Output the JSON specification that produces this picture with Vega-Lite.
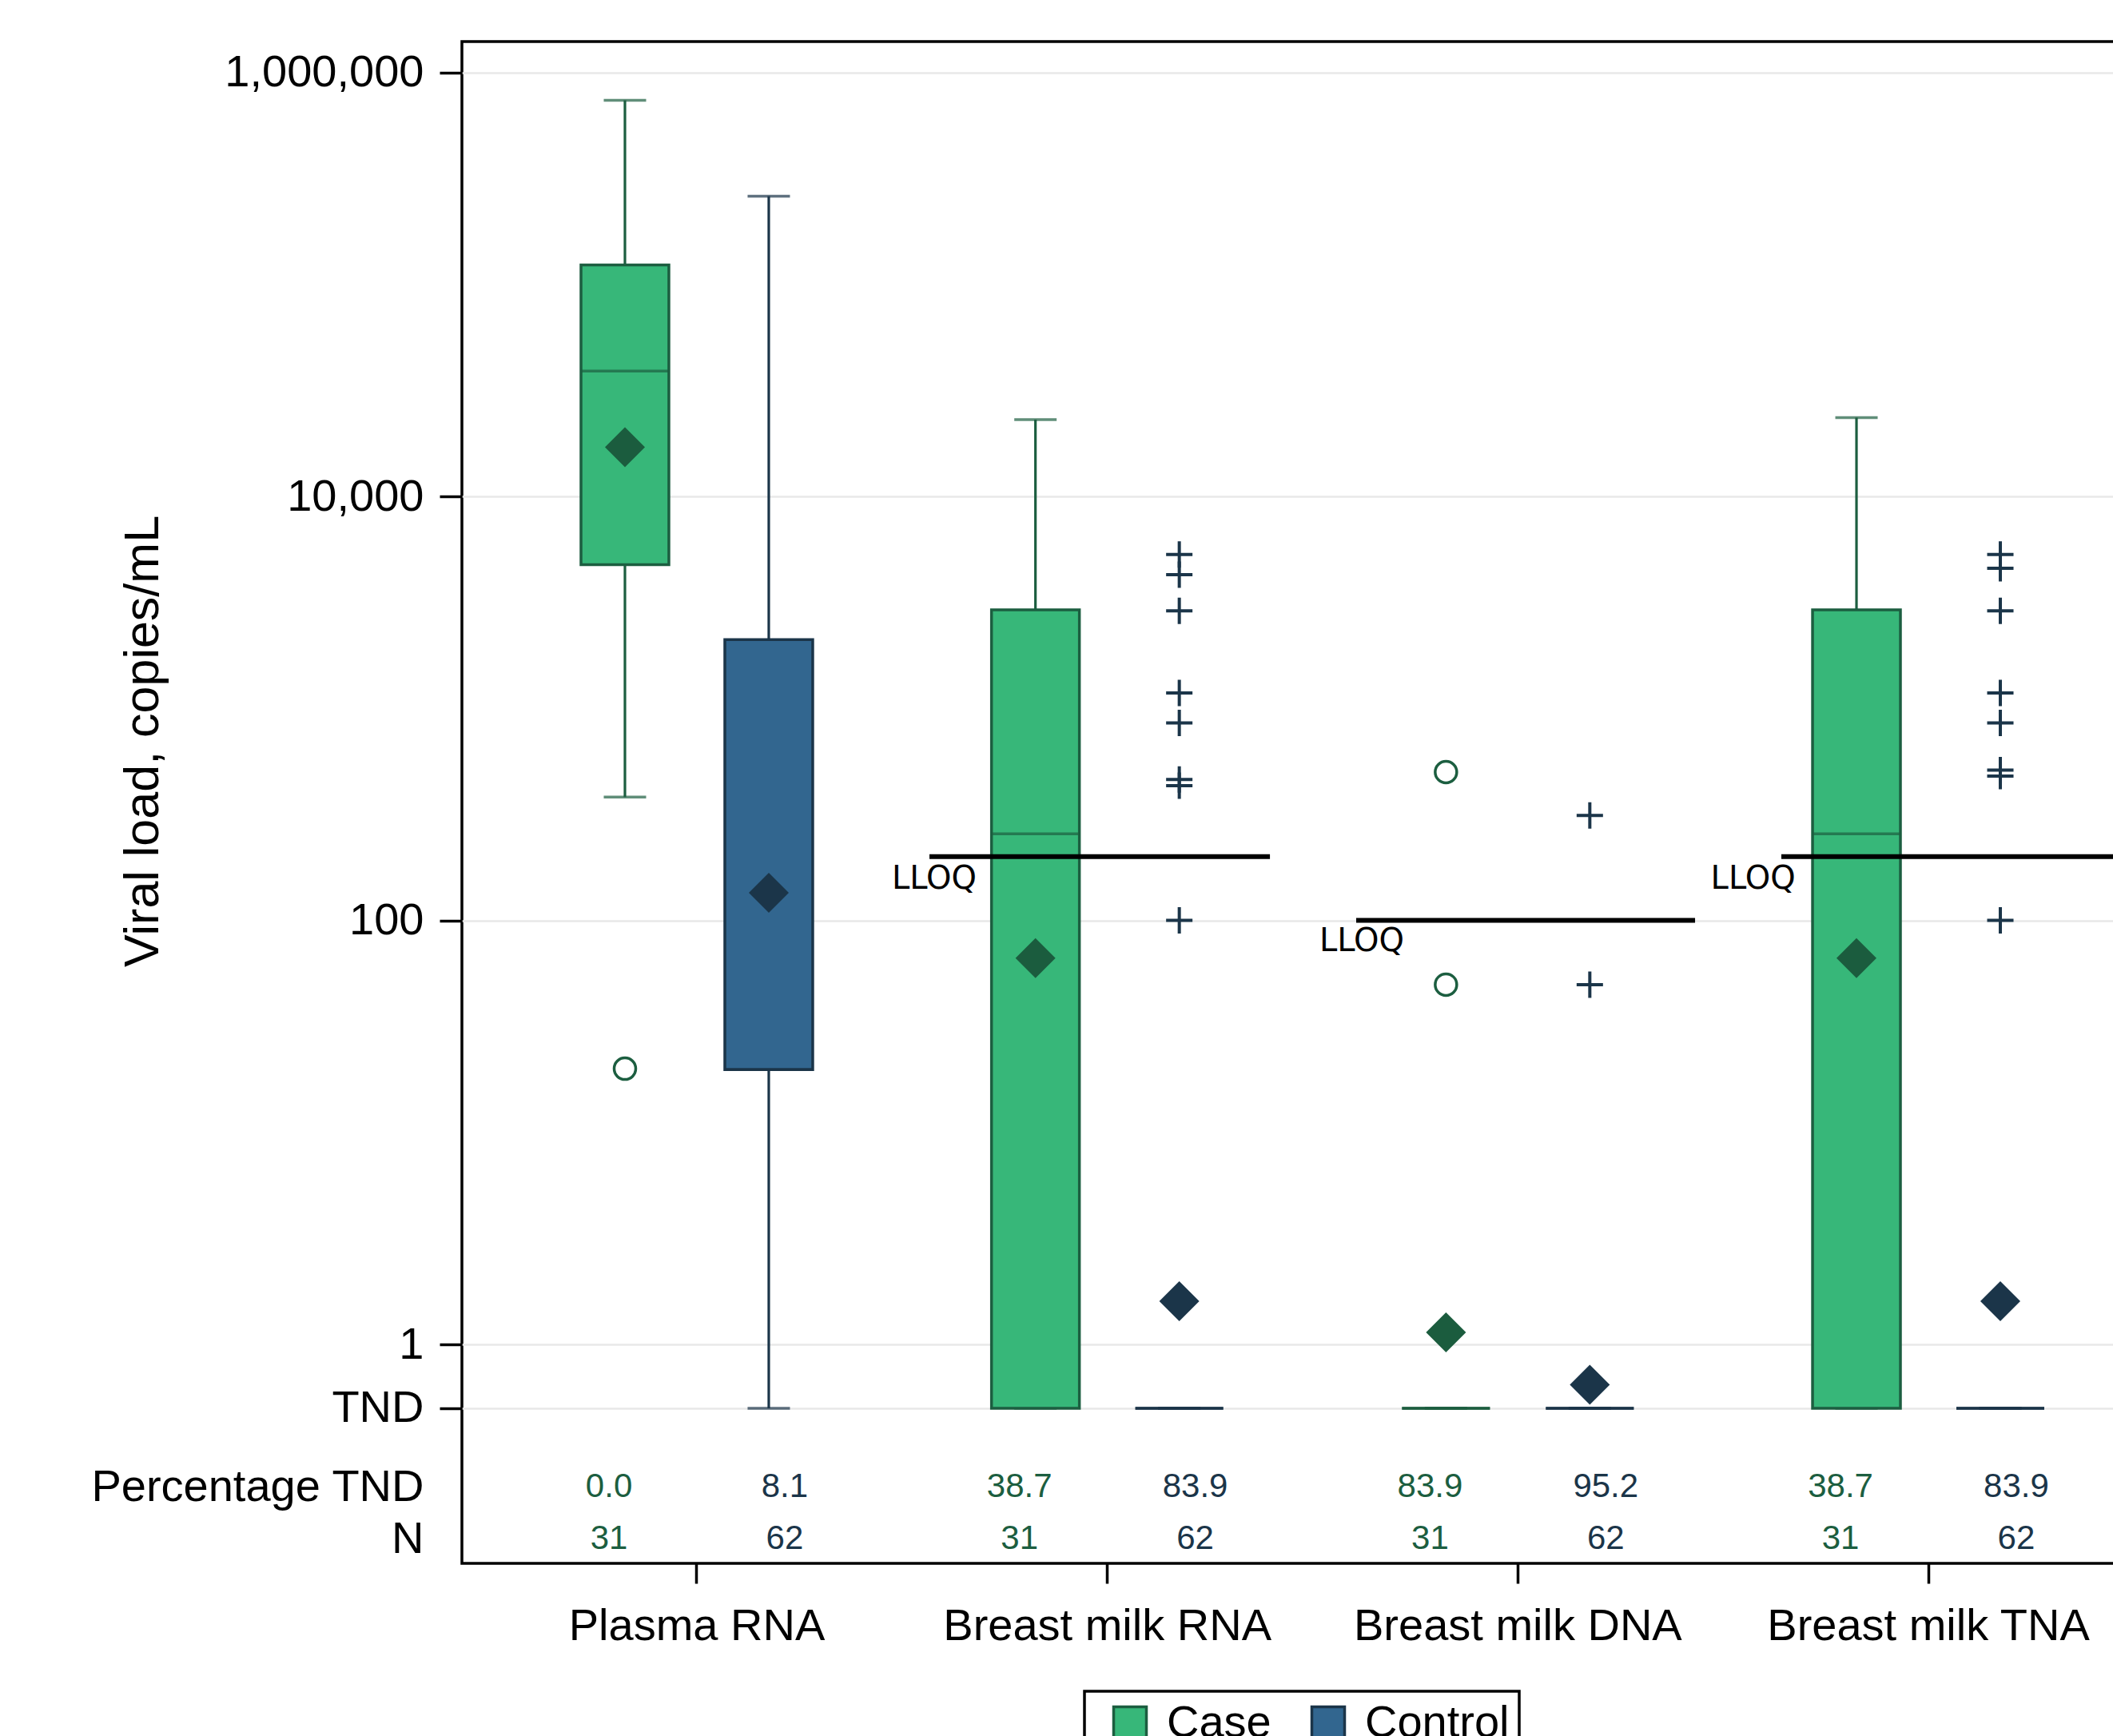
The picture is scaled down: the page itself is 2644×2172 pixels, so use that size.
{
  "$schema": "https://vega.github.io/schema/vega-lite/v6.json",
  "width": 2129,
  "height": 1904,
  "autosize": {"type": "none"},
  "padding": {"left": 578, "top": 52, "right": -63, "bottom": 216},
  "background": "white",
  "config": {
    "view": {"stroke": "black", "strokeWidth": 3.5},
    "font": "Liberation Sans"
  },
  "datasets": {
    "boxes": [
      {"category": "Plasma RNA", "group": "Case", "lower": 382, "q1": 4770, "median": 39100, "q3": 123700, "upper": 740000, "mean": 17100, "pct": 0.0, "n": 31},
      {"category": "Plasma RNA", "group": "Control", "lower": 0.5, "q1": 19.8, "median": 19.8, "q3": 2111, "upper": 261200, "mean": 135, "pct": 8.1, "n": 62},
      {"category": "Breast milk RNA", "group": "Case", "lower": 0.5, "q1": 0.5, "median": 256, "q3": 2917, "upper": 23070, "mean": 66.4, "pct": 38.7, "n": 31},
      {"category": "Breast milk RNA", "group": "Control", "lower": 0.5, "q1": 0.5, "median": 0.5, "q3": 0.5, "upper": 0.5, "mean": 1.6, "pct": 83.9, "n": 62},
      {"category": "Breast milk DNA", "group": "Case", "lower": 0.5, "q1": 0.5, "median": 0.5, "q3": 0.5, "upper": 0.5, "mean": 1.14, "pct": 83.9, "n": 31},
      {"category": "Breast milk DNA", "group": "Control", "lower": 0.5, "q1": 0.5, "median": 0.5, "q3": 0.5, "upper": 0.5, "mean": 0.646, "pct": 95.2, "n": 62},
      {"category": "Breast milk TNA", "group": "Case", "lower": 0.5, "q1": 0.5, "median": 256, "q3": 2917, "upper": 23560, "mean": 66.4, "pct": 38.7, "n": 31},
      {"category": "Breast milk TNA", "group": "Control", "lower": 0.5, "q1": 0.5, "median": 0.5, "q3": 0.5, "upper": 0.5, "mean": 1.6, "pct": 83.9, "n": 62}
    ],
    "outliers": [
      {"category": "Plasma RNA", "group": "Case", "value": 19.98},
      {"category": "Breast milk RNA", "group": "Control", "value": 5330},
      {"category": "Breast milk RNA", "group": "Control", "value": 4276},
      {"category": "Breast milk RNA", "group": "Control", "value": 2885},
      {"category": "Breast milk RNA", "group": "Control", "value": 1183},
      {"category": "Breast milk RNA", "group": "Control", "value": 855},
      {"category": "Breast milk RNA", "group": "Control", "value": 462},
      {"category": "Breast milk RNA", "group": "Control", "value": 432},
      {"category": "Breast milk RNA", "group": "Control", "value": 100},
      {"category": "Breast milk DNA", "group": "Case", "value": 501},
      {"category": "Breast milk DNA", "group": "Case", "value": 49.8},
      {"category": "Breast milk DNA", "group": "Control", "value": 313},
      {"category": "Breast milk DNA", "group": "Control", "value": 49.8},
      {"category": "Breast milk TNA", "group": "Control", "value": 5330},
      {"category": "Breast milk TNA", "group": "Control", "value": 4585},
      {"category": "Breast milk TNA", "group": "Control", "value": 2885},
      {"category": "Breast milk TNA", "group": "Control", "value": 1183},
      {"category": "Breast milk TNA", "group": "Control", "value": 855},
      {"category": "Breast milk TNA", "group": "Control", "value": 512},
      {"category": "Breast milk TNA", "group": "Control", "value": 480},
      {"category": "Breast milk TNA", "group": "Control", "value": 100}
    ],
    "lloq": [
      {"category": "Breast milk RNA", "lloq": 200, "label": "LLOQ"},
      {"category": "Breast milk DNA", "lloq": 100, "label": "LLOQ"},
      {"category": "Breast milk TNA", "lloq": 200, "label": "LLOQ"}
    ]
  },
  "layer": [
    {
      "data": {"name": "boxes"},
      "mark": {"type": "rule", "strokeWidth": 3.2},
      "encoding": {
        "x": {
          "field": "category", "type": "nominal",
          "sort": ["Plasma RNA", "Breast milk RNA", "Breast milk DNA", "Breast milk TNA"],
          "title": null,
          "scale": {"domain": ["Plasma RNA", "Breast milk RNA", "Breast milk DNA", "Breast milk TNA"], "paddingInner": 0, "paddingOuter": 0.0723},
          "axis": {
            "labelFontSize": 56, "labelFont": "Liberation Sans", "labelColor": "black", "labelAngle": 0,
            "labelLimit": 0, "tickSize": 25, "tickWidth": 3.5, "tickColor": "black",
            "domain": false, "grid": false, "labelPadding": 26, "title": null
          }
        },
        "xOffset": {"field": "group", "type": "nominal", "scale": {"domain": ["Case", "Control"], "paddingInner": 0.389, "paddingOuter": 0.6215}},
        "y": {
          "field": "lower", "type": "quantitative",
          "title": "Viral load, copies/mL",
          "scale": {"type": "log", "domain": [0.0927, 1400000], "nice": false},
          "axis": {
            "values": [0.121, 0.213, 0.5, 1, 100, 10000, 1000000],
            "labelExpr": "datum.value >= 1 ? format(datum.value, ',') : (datum.value == 0.5 ? 'TND' : (datum.value > 0.2 ? 'Percentage TND' : 'N'))",
            "tickOpacity": {"condition": {"test": "datum.value < 0.3", "value": 0}, "value": 1},
            "gridOpacity": {"condition": {"test": "datum.value < 0.3", "value": 0}, "value": 1},
            "grid": true, "gridColor": "#e8e8e8", "gridWidth": 2.5,
            "domain": false, "tickColor": "black", "tickWidth": 3.5, "tickSize": 28,
            "labelFontSize": 56, "labelFont": "Liberation Sans", "labelColor": "black", "labelPadding": 20,
            "labelLimit": 0, "labelOverlap": false, "labelFlush": false, "labelBound": false,
            "title": "Viral load, copies/mL", "titleFontSize": 61, "titleFont": "Liberation Sans",
            "titleFontWeight": "normal", "titleColor": "black",
            "titleX": -381, "titleY": 875, "titleAngle": 270, "titleBaseline": "alphabetic", "titleAlign": "center"
          }
        },
        "y2": {"field": "upper"},
        "color": {"condition": {"test": "datum.group === 'Case'", "value": "#1c5e40"}, "value": "#1b3549"}
      }
    },
    {
      "data": {"name": "boxes"},
      "mark": {"type": "tick", "size": 53, "thickness": 3.5},
      "encoding": {
        "x": {"field": "category", "type": "nominal", "sort": ["Plasma RNA", "Breast milk RNA", "Breast milk DNA", "Breast milk TNA"], "title": null},
        "xOffset": {"field": "group", "type": "nominal", "scale": {"domain": ["Case", "Control"], "paddingInner": 0.389, "paddingOuter": 0.6215}},
        "y": {"field": "lower", "type": "quantitative", "title": "Viral load, copies/mL"},
        "color": {"condition": {"test": "datum.group === 'Case'", "value": "#1c5e40"}, "value": "#1b3549"}
      }
    },
    {
      "data": {"name": "boxes"},
      "mark": {"type": "tick", "size": 53, "thickness": 3.5},
      "encoding": {
        "x": {"field": "category", "type": "nominal", "sort": ["Plasma RNA", "Breast milk RNA", "Breast milk DNA", "Breast milk TNA"], "title": null},
        "xOffset": {"field": "group", "type": "nominal", "scale": {"domain": ["Case", "Control"], "paddingInner": 0.389, "paddingOuter": 0.6215}},
        "y": {"field": "upper", "type": "quantitative", "title": "Viral load, copies/mL"},
        "color": {"condition": {"test": "datum.group === 'Case'", "value": "#1c5e40"}, "value": "#1b3549"}
      }
    },
    {
      "data": {"name": "boxes"},
      "mark": {"type": "bar", "strokeWidth": 3.5, "opacity": 1},
      "encoding": {
        "x": {"field": "category", "type": "nominal", "sort": ["Plasma RNA", "Breast milk RNA", "Breast milk DNA", "Breast milk TNA"], "title": null},
        "xOffset": {"field": "group", "type": "nominal", "scale": {"domain": ["Case", "Control"], "paddingInner": 0.389, "paddingOuter": 0.6215}},
        "y": {"field": "q1", "type": "quantitative", "title": "Viral load, copies/mL"},
        "y2": {"field": "q3"},
        "color": {
          "field": "group", "type": "nominal",
          "scale": {"domain": ["Case", "Control"], "range": ["#37b779", "#32668f"]},
          "legend": {
            "title": null, "orient": "none", "legendX": 779, "legendY": 2064,
            "direction": "horizontal", "symbolType": "square", "symbolSize": 1681,
            "symbolStrokeWidth": 3.5, "symbolOpacity": 1,
            "labelFontSize": 56, "labelFont": "Liberation Sans", "labelColor": "black", "labelLimit": 0,
            "padding": 12, "symbolOffset": 17, "labelOffset": 18, "columnPadding": 26,
            "strokeColor": "black",
            "encode": {
              "legend": {"update": {"strokeWidth": {"value": 3.5}}},
              "symbols": {"update": {"stroke": {"signal": "datum.value === 'Case' ? '#1c5e40' : '#1b3549'"}, "strokeWidth": {"value": 3.5}}}
            }
          }
        },
        "stroke": {
          "field": "group", "type": "nominal",
          "scale": {"domain": ["Case", "Control"], "range": ["#1c5e40", "#1b3549"]},
          "legend": null
        }
      }
    },
    {
      "data": {"name": "boxes"},
      "mark": {"type": "tick", "size": 110, "thickness": 3.5},
      "encoding": {
        "x": {"field": "category", "type": "nominal", "sort": ["Plasma RNA", "Breast milk RNA", "Breast milk DNA", "Breast milk TNA"], "title": null},
        "xOffset": {"field": "group", "type": "nominal", "scale": {"domain": ["Case", "Control"], "paddingInner": 0.389, "paddingOuter": 0.6215}},
        "y": {"field": "median", "type": "quantitative", "title": "Viral load, copies/mL"},
        "color": {"condition": {"test": "datum.group === 'Case'", "value": "#1c5e40"}, "value": "#1b3549"}
      }
    },
    {
      "data": {"name": "boxes"},
      "mark": {"type": "point", "shape": "diamond", "size": 2500, "filled": true, "opacity": 1},
      "encoding": {
        "x": {"field": "category", "type": "nominal", "sort": ["Plasma RNA", "Breast milk RNA", "Breast milk DNA", "Breast milk TNA"], "title": null},
        "xOffset": {"field": "group", "type": "nominal", "scale": {"domain": ["Case", "Control"], "paddingInner": 0.389, "paddingOuter": 0.6215}},
        "y": {"field": "mean", "type": "quantitative", "title": "Viral load, copies/mL"},
        "color": {"condition": {"test": "datum.group === 'Case'", "value": "#1b5c3e"}, "value": "#1b3549"}
      }
    },
    {
      "data": {"name": "outliers"},
      "transform": [{"filter": "datum.group === 'Case'"}],
      "mark": {"type": "point", "shape": "circle", "size": 729, "filled": false, "strokeWidth": 3.5, "opacity": 1, "color": "#1c5e40"},
      "encoding": {
        "x": {"field": "category", "type": "nominal", "sort": ["Plasma RNA", "Breast milk RNA", "Breast milk DNA", "Breast milk TNA"], "title": null},
        "xOffset": {"field": "group", "type": "nominal", "scale": {"domain": ["Case", "Control"], "paddingInner": 0.389, "paddingOuter": 0.6215}},
        "y": {"field": "value", "type": "quantitative", "title": "Viral load, copies/mL"}
      }
    },
    {
      "data": {"name": "outliers"},
      "transform": [{"filter": "datum.group === 'Control'"}],
      "mark": {"type": "point", "shape": "M-1,0H1M0,-1V1", "size": 1089, "filled": false, "strokeWidth": 4, "opacity": 1, "color": "#1b3549"},
      "encoding": {
        "x": {"field": "category", "type": "nominal", "sort": ["Plasma RNA", "Breast milk RNA", "Breast milk DNA", "Breast milk TNA"], "title": null},
        "xOffset": {"field": "group", "type": "nominal", "scale": {"domain": ["Case", "Control"], "paddingInner": 0.389, "paddingOuter": 0.6215}},
        "y": {"field": "value", "type": "quantitative", "title": "Viral load, copies/mL"}
      }
    },
    {
      "data": {"name": "boxes"},
      "transform": [{"filter": "datum.group === 'Case'"}],
      "mark": {"type": "text", "fontSize": 42, "font": "Liberation Sans", "color": "#1c5e40", "baseline": "middle", "align": "center"},
      "encoding": {
        "x": {"field": "category", "type": "nominal", "sort": ["Plasma RNA", "Breast milk RNA", "Breast milk DNA", "Breast milk TNA"], "title": null, "bandPosition": 0.286},
        "y": {"datum": 0.213, "type": "quantitative"},
        "text": {"field": "pct", "type": "quantitative", "format": ".1f"}
      }
    },
    {
      "data": {"name": "boxes"},
      "transform": [{"filter": "datum.group === 'Control'"}],
      "mark": {"type": "text", "fontSize": 42, "font": "Liberation Sans", "color": "#1b3549", "baseline": "middle", "align": "center"},
      "encoding": {
        "x": {"field": "category", "type": "nominal", "sort": ["Plasma RNA", "Breast milk RNA", "Breast milk DNA", "Breast milk TNA"], "title": null, "bandPosition": 0.714},
        "y": {"datum": 0.213, "type": "quantitative"},
        "text": {"field": "pct", "type": "quantitative", "format": ".1f"}
      }
    },
    {
      "data": {"name": "boxes"},
      "transform": [{"filter": "datum.group === 'Case'"}],
      "mark": {"type": "text", "fontSize": 42, "font": "Liberation Sans", "color": "#1c5e40", "baseline": "middle", "align": "center"},
      "encoding": {
        "x": {"field": "category", "type": "nominal", "sort": ["Plasma RNA", "Breast milk RNA", "Breast milk DNA", "Breast milk TNA"], "title": null, "bandPosition": 0.286},
        "y": {"datum": 0.121, "type": "quantitative"},
        "text": {"field": "n", "type": "quantitative", "format": "d"}
      }
    },
    {
      "data": {"name": "boxes"},
      "transform": [{"filter": "datum.group === 'Control'"}],
      "mark": {"type": "text", "fontSize": 42, "font": "Liberation Sans", "color": "#1b3549", "baseline": "middle", "align": "center"},
      "encoding": {
        "x": {"field": "category", "type": "nominal", "sort": ["Plasma RNA", "Breast milk RNA", "Breast milk DNA", "Breast milk TNA"], "title": null, "bandPosition": 0.714},
        "y": {"datum": 0.121, "type": "quantitative"},
        "text": {"field": "n", "type": "quantitative", "format": "d"}
      }
    },
    {
      "data": {"name": "lloq"},
      "transform": [{"filter": "datum.category === 'Breast milk RNA'"}],
      "mark": {"type": "rule", "strokeWidth": 6, "color": "black"},
      "encoding": {
        "x": {"field": "category", "type": "nominal", "sort": ["Plasma RNA", "Breast milk RNA", "Breast milk DNA", "Breast milk TNA"], "title": null, "bandPosition": 0.0666},
        "x2": {"field": "category", "bandPosition": 0.896},
        "y": {"field": "lloq", "type": "quantitative", "title": "Viral load, copies/mL"}
      }
    },
    {
      "data": {"name": "lloq"},
      "transform": [{"filter": "datum.category === 'Breast milk DNA'"}],
      "mark": {"type": "rule", "strokeWidth": 6, "color": "black"},
      "encoding": {
        "x": {"field": "category", "type": "nominal", "sort": ["Plasma RNA", "Breast milk RNA", "Breast milk DNA", "Breast milk TNA"], "title": null, "bandPosition": 0.1061},
        "x2": {"field": "category", "bandPosition": 0.9316},
        "y": {"field": "lloq", "type": "quantitative", "title": "Viral load, copies/mL"}
      }
    },
    {
      "data": {"name": "lloq"},
      "transform": [{"filter": "datum.category === 'Breast milk TNA'"}],
      "mark": {"type": "rule", "strokeWidth": 6, "color": "black"},
      "encoding": {
        "x": {"field": "category", "type": "nominal", "sort": ["Plasma RNA", "Breast milk RNA", "Breast milk DNA", "Breast milk TNA"], "title": null, "bandPosition": 0.1417},
        "x2": {"field": "category", "bandPosition": 0.97},
        "y": {"field": "lloq", "type": "quantitative", "title": "Viral load, copies/mL"}
      }
    },
    {
      "data": {"name": "lloq"},
      "transform": [{"filter": "datum.category === 'Breast milk RNA'"}],
      "mark": {"type": "text", "fontSize": 40, "font": "DejaVu Sans", "color": "black", "baseline": "middle", "align": "center"},
      "encoding": {
        "x": {"field": "category", "type": "nominal", "sort": ["Plasma RNA", "Breast milk RNA", "Breast milk DNA", "Breast milk TNA"], "title": null, "bandPosition": 0.0783},
        "y": {"datum": 156.2, "type": "quantitative"},
        "text": {"field": "label"}
      }
    },
    {
      "data": {"name": "lloq"},
      "transform": [{"filter": "datum.category === 'Breast milk DNA'"}],
      "mark": {"type": "text", "fontSize": 40, "font": "DejaVu Sans", "color": "black", "baseline": "middle", "align": "center"},
      "encoding": {
        "x": {"field": "category", "type": "nominal", "sort": ["Plasma RNA", "Breast milk RNA", "Breast milk DNA", "Breast milk TNA"], "title": null, "bandPosition": 0.1197},
        "y": {"datum": 79.7, "type": "quantitative"},
        "text": {"field": "label"}
      }
    },
    {
      "data": {"name": "lloq"},
      "transform": [{"filter": "datum.category === 'Breast milk TNA'"}],
      "mark": {"type": "text", "fontSize": 40, "font": "DejaVu Sans", "color": "black", "baseline": "middle", "align": "center"},
      "encoding": {
        "x": {"field": "category", "type": "nominal", "sort": ["Plasma RNA", "Breast milk RNA", "Breast milk DNA", "Breast milk TNA"], "title": null, "bandPosition": 0.073},
        "y": {"datum": 156.2, "type": "quantitative"},
        "text": {"field": "label"}
      }
    }
  ]
}
